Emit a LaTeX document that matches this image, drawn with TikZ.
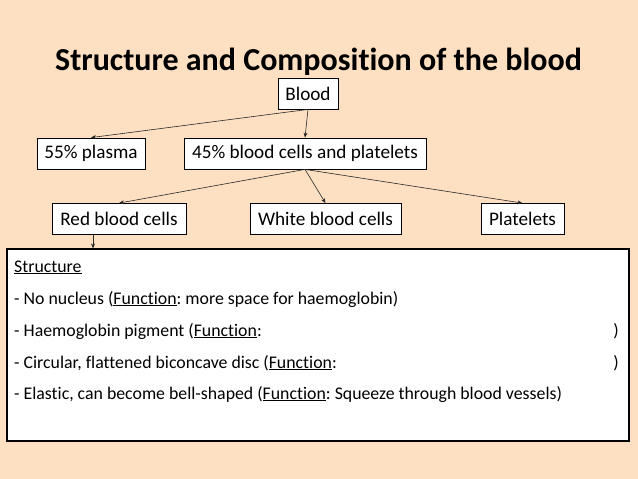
\documentclass[tikz,border=0pt]{standalone}
\usepackage{fontspec}
\setmainfont{Carlito}[Ligatures=CommonOff]
\usepackage{tikz}
\usetikzlibrary{arrows.meta}
\frenchspacing

\definecolor{peach}{RGB}{253,223,193}
\definecolor{linegray}{RGB}{40,40,40}

\tikzset{
  box/.style={draw=black, fill=white, line width=0.8pt, inner sep=0pt,
    minimum height=31pt, font=\fontsize{19.2}{22}\selectfont},
  line/.style={font=\fontsize{17.8}{21}\selectfont, anchor=base west, inner sep=0pt},
  conn/.style={-{Stealth[length=5pt,width=4pt]}, draw=linegray, line width=0.6pt}
}

\begin{document}
\begin{tikzpicture}[x=1pt, y=-1pt]
    \fill[peach] (0,0) rectangle (638,479);
    \useasboundingbox (0,0) rectangle (638,479);
    \node[font=\fontsize{32}{36}\selectfont\bfseries, anchor=base] (title) at (318.5,70){Structure and Composition of the blood};
    \node[box, minimum width=60pt] (blood) at (308,93.5){Blood};
    \node[box, minimum width=108pt] (plasma) at (91,153.5){55\% plasma};
    \node[box, minimum width=242pt] (cells) at (305,153.5){45\% blood cells and platelets};
    \node[box, minimum width=134pt] (red) at (119,219){Red blood cells};
    \node[box, minimum width=151pt] (white) at (325.5,219){White blood cells};
    \node[box, minimum width=83pt] (platelets) at (522.5,219){Platelets};
    \node[box, line width=1.2pt, minimum width=622pt, minimum height=192pt] (structure) at (318,345){};
    \node[line] (head) at (14,272){\underline{Structure}};
    \node[line] (l1) at (14,304){- No nucleus (\underline{Function}: more space for haemoglobin)};
    \node[line] (l2) at (14,336){- Haemoglobin pigment (\underline{Function}:};
    \node[line, anchor=base east] (r2) at (619,336){)};
    \node[line] (l3) at (14,368){- Circular, flattened biconcave disc (\underline{Function}:};
    \node[line, anchor=base east] (r3) at (619,368){)};
    \node[line] (l4) at (14,399){- Elastic, can become bell-shaped (\underline{Function}: Squeeze through blood vessels)};
    \draw[conn] (blood.south)--(plasma.north);
    \draw[conn] (blood.south)--(cells.north);
    \draw[conn] (cells.south)--(red.north);
    \draw[conn] (cells.south)--(white.north);
    \draw[conn] (cells.south)--(platelets.north);
    \draw[conn] ([xshift=-26pt]red.south)--([xshift=-26pt]red.south |- structure.north);
  \end{tikzpicture}
\end{document}
